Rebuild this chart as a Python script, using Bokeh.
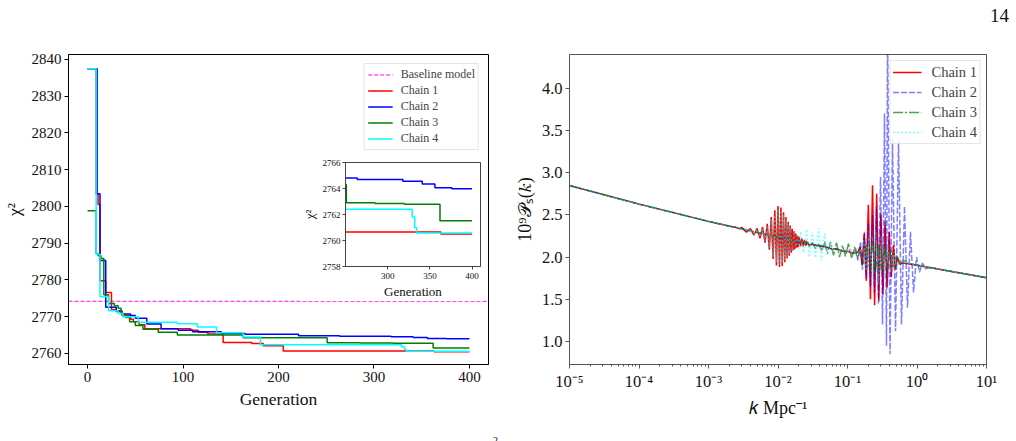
from bokeh.plotting import figure
from bokeh.layouts import row
from bokeh.models import (Range1d, FixedTicker, Legend, LegendItem, Div,
                          CustomJSTickFormatter, NumeralTickFormatter)
from bokeh.embed import file_html
from bokeh.resources import INLINE

SERIF = "Liberation Serif"

# ---------------------------------------------------------------------------
# Best chi^2 found so far by each chain: generation where a new best value
# starts, and that value.
# ---------------------------------------------------------------------------
chain1_gen = [0, 9, 11, 13, 19, 25, 30, 36, 45, 48, 54, 60, 108, 116, 126, 142, 172, 184, 205, 363, 400]
chain1_chi2 = [2837.4, 2803.3, 2800.5, 2779.8, 2776.6, 2771.9, 2771.4, 2770.4, 2769.3, 2768.6, 2767.8,
               2766.7, 2766.3, 2765.8, 2765.3, 2763.0, 2762.7, 2762.1, 2760.65, 2760.5, 2760.5]

chain2_gen = [0, 10, 13, 19, 30, 36, 45, 50, 62, 77, 95, 110, 140, 165, 221, 264, 318, 341, 356, 376, 400]
chain2_chi2 = [2837.4, 2803.4, 2785.3, 2772.6, 2771.6, 2770.7, 2770.3, 2769.6, 2768.0, 2766.7, 2766.3,
               2765.9, 2765.4, 2765.2, 2764.8, 2764.7, 2764.55, 2764.35, 2764.05, 2763.98, 2763.98]

chain3_gen = [0, 9, 11, 14, 17, 22, 28, 32, 35, 40, 44, 50, 58, 74, 94, 163, 251, 285, 320, 362, 400]
chain3_chi2 = [2798.8, 2787.2, 2786.6, 2785.8, 2776.0, 2773.6, 2773.0, 2772.3, 2770.8, 2769.8, 2768.6,
               2767.6, 2766.6, 2765.8, 2765.0, 2764.3, 2762.9, 2762.84, 2762.78, 2761.52, 2761.52]

chain4_gen = [0, 9, 13, 22, 32, 37, 53, 94, 115, 135, 163, 181, 329, 332, 334, 400]
chain4_chi2 = [2837.4, 2787.0, 2775.4, 2771.6, 2770.9, 2770.0, 2768.5, 2768.1, 2767.2, 2765.6, 2764.5,
               2762.4, 2761.8, 2761.0, 2760.58, 2760.58]

baseline_chi2 = 2774.2

gen_ticks = [0, 100, 200, 300, 400]
chi2_ticks = [2760, 2770, 2780, 2790, 2800, 2810, 2820, 2830, 2840]
inset_gen_ticks = [300, 350, 400]
inset_chi2_ticks = [2758, 2760, 2762, 2764, 2766]

# ---------------------------------------------------------------------------
# Reconstructed primordial power spectra, 10^9 P_s(k), one per chain
# ---------------------------------------------------------------------------
spec1_k = [1e-5, 1e-4, 1e-3, 0.002, 0.0025, 0.0028,
           0.0030, 0.0035, 0.0040, 0.0045, 0.0050, 0.0055, 0.0060, 0.0065, 0.0070, 0.0075,
           0.0080, 0.0085, 0.0090, 0.0095, 0.0100, 0.0105, 0.0110, 0.0115, 0.0120, 0.0125,
           0.0130, 0.0135, 0.0140, 0.0145, 0.0150, 0.0155, 0.0160, 0.0165, 0.0170, 0.0175,
           0.0180, 0.0185, 0.0190, 0.0195, 0.0200,
           0.0210, 0.0220, 0.0230, 0.0240, 0.0250, 0.0265, 0.0280, 0.0300,
           0.040, 0.050, 0.060, 0.070, 0.085, 0.100, 0.120, 0.135,
           0.1413, 0.1514, 0.1622, 0.1738, 0.1862, 0.1995, 0.2138, 0.2291, 0.2455, 0.2630,
           0.2818, 0.3020, 0.3236, 0.3467, 0.3715, 0.3981, 0.4266, 0.4571, 0.4898, 0.5248,
           0.5623, 0.631, 1.0, 10.0]
spec1_p = [2.847, 2.627, 2.423, 2.365, 2.352, 2.335,
           2.352, 2.295, 2.338, 2.259, 2.340, 2.223, 2.356, 2.170, 2.394, 2.088,
           2.473, 1.978, 2.554, 1.900, 2.605, 1.882, 2.588, 1.894, 2.531, 1.938,
           2.475, 1.982, 2.419, 2.016, 2.374, 2.051, 2.334, 2.077, 2.305, 2.092,
           2.280, 2.108, 2.256, 2.119, 2.242,
           2.128, 2.220, 2.131, 2.203, 2.135, 2.180, 2.141, 2.151,
           2.135, 2.118, 2.094, 2.098, 2.070, 2.068, 2.045, 2.048,
           2.06, 2.12, 1.90, 2.28, 1.72, 2.62, 1.50, 2.85, 1.43, 2.75,
           1.48, 2.52, 1.56, 2.42, 1.64, 2.30, 1.76, 2.14, 1.85, 2.00,
           1.92, 1.93, 1.903, 1.755]

spec2_k = [1e-5, 1e-4, 1e-3, 0.01, 0.05, 0.1, 0.123, 0.1318, 0.1413,
           0.1538, 0.1644, 0.1758, 0.1875, 0.2004, 0.2143, 0.2291, 0.2443, 0.2612, 0.2793,
           0.2985, 0.3192, 0.3404, 0.3639, 0.3767, 0.4093, 0.4436, 0.4909, 0.5420, 0.5984,
           0.6607, 0.7295, 0.8054, 0.8913, 0.9840, 1.086, 1.199, 1.324, 1.563, 10.0]
spec2_p = [2.847, 2.627, 2.423, 2.235, 2.113, 2.062, 2.05, 2.10, 1.96,
           2.18, 1.85, 2.30, 1.75, 2.40, 1.65, 2.50, 1.58, 2.60, 1.45,
           2.95, 1.20, 3.70, 0.95, 4.80, 0.85, 3.40, 1.12, 3.38, 1.20,
           2.60, 1.40, 2.30, 1.58, 2.00, 1.82, 1.93, 1.86, 1.874, 1.755]

spec3_k = [1e-5, 1e-4, 1e-3, 0.01, 0.018,
           0.0211, 0.0233, 0.0257, 0.0284, 0.0313, 0.0347, 0.0383, 0.0423, 0.0467, 0.0515,
           0.0569, 0.0629, 0.0695, 0.0767, 0.0847, 0.0935, 0.1033, 0.1143, 0.1262, 0.1393,
           0.1538, 0.1698, 0.1875, 0.2075, 0.2291, 0.2529, 0.2793, 0.3083, 0.3404, 0.3767,
           0.4159, 0.4592, 0.5070, 0.5598, 0.6397, 0.8054, 1.0, 10.0]
spec3_p = [2.847, 2.627, 2.423, 2.235, 2.19,
           2.20, 2.15, 2.19, 2.12, 2.17, 2.10, 2.16, 2.08, 2.18, 2.04,
           2.18, 2.02, 2.17, 2.00, 2.14, 2.01, 2.16, 1.99, 2.12, 1.98,
           2.10, 1.92, 2.16, 1.86, 2.18, 1.82, 2.16, 1.84, 2.12, 1.86,
           2.08, 1.88, 2.02, 1.90, 1.96, 1.92, 1.903, 1.755]

spec4_k = [1e-5, 1e-4, 1e-3, 0.003,
           0.0040, 0.0045, 0.0050, 0.0055, 0.0060, 0.0065, 0.0070, 0.0075, 0.0080, 0.0085,
           0.0090, 0.0095, 0.0100, 0.0105, 0.0110, 0.0115, 0.0120, 0.0125, 0.0130, 0.0135,
           0.0140, 0.0145, 0.0150, 0.0160, 0.0170, 0.0180, 0.0190, 0.0200,
           0.0211, 0.0233, 0.0257, 0.0284, 0.0313, 0.0347, 0.0383, 0.0423, 0.0467, 0.0515,
           0.0569, 0.0629, 0.0695, 0.0794, 0.110, 0.150,
           0.1698, 0.1875, 0.2075, 0.2291, 0.2529, 0.2793, 0.3083, 0.3404, 0.3767, 0.4159,
           0.4592, 0.5070, 0.575, 1.0, 10.0]
spec4_p = [2.847, 2.627, 2.423, 2.332,
           2.33, 2.27, 2.33, 2.24, 2.34, 2.19, 2.37, 2.11, 2.44, 2.01,
           2.52, 1.94, 2.56, 1.91, 2.55, 1.93, 2.50, 1.97, 2.44, 2.01,
           2.39, 2.04, 2.35, 2.07, 2.30, 2.10, 2.27, 2.10,
           2.30, 2.05, 2.33, 2.00, 2.30, 1.99, 2.34, 1.96, 2.28, 2.02,
           2.18, 2.06, 2.12, 2.08, 2.06, 2.033,
           2.20, 1.84, 2.30, 1.72, 2.32, 1.70, 2.25, 1.76, 2.16, 1.82,
           2.06, 1.88, 1.95, 1.903, 1.755]

k_ticks = [1e-5, 1e-4, 1e-3, 1e-2, 1e-1, 1e0, 1e1]
k_tick_labels = ["10\u207b\u2075", "10\u207b\u2074", "10\u207b\u00b3", "10\u207b\u00b2",
                 "10\u207b\u00b9", "10\u2070", "10\u00b9"]
p_ticks = [1.0, 1.5, 2.0, 2.5, 3.0, 3.5, 4.0]

chain_names = ["Chain 1", "Chain 2", "Chain 3", "Chain 4"]
chain_colors = ["#ff0000", "#0000ff", "#008000", "#00ffff"]


def style_axes(p, tick_size, label_size, frame_color="black"):
    p.outline_line_color = frame_color
    p.outline_line_width = 1
    p.background_fill_color = "white"
    p.border_fill_color = "white"
    p.xgrid.visible = False
    p.ygrid.visible = False
    for ax in (p.xaxis[0], p.yaxis[0]):
        ax.axis_line_color = frame_color
        ax.major_tick_line_color = frame_color
        ax.major_tick_out = 4
        ax.major_tick_in = 0
        ax.minor_tick_line_color = None
        ax.major_label_text_font = SERIF
        ax.major_label_text_font_size = tick_size
        ax.major_label_text_color = "#111111"
        ax.major_label_standoff = 3
        ax.axis_label_text_font = SERIF
        ax.axis_label_text_font_style = "normal"
        ax.axis_label_text_font_size = label_size
        ax.axis_label_text_color = "#111111"
        ax.axis_label_standoff = 4


# ---------------------------------------------------------------------------
# Left panel: chi^2 against generation
# ---------------------------------------------------------------------------
left = figure(width=508, height=441, x_range=Range1d(-20, 420), y_range=Range1d(2757.0, 2841.3),
              min_border_left=63, min_border_right=20, min_border_top=53, min_border_bottom=69,
              output_backend="svg", toolbar_location=None)
style_axes(left, "15px", "17.5px")
left.xaxis.ticker = FixedTicker(ticks=gen_ticks)
left.yaxis.ticker = FixedTicker(ticks=chi2_ticks)
left.xaxis.axis_label = "Generation"
left.yaxis.axis_label = "\u03c7\u00b2"
left.yaxis.axis_label_standoff = 5

base_r = left.line(x=[left.x_range.start, left.x_range.end], y=[baseline_chi2, baseline_chi2],
                   line_color="#ff00ff", line_width=1, line_dash="4 2")
gens = [chain1_gen, chain2_gen, chain3_gen, chain4_gen]
chis = [chain1_chi2, chain2_chi2, chain3_chi2, chain4_chi2]
left_items = [LegendItem(label="Baseline model", renderers=[base_r])]
for g, c, col, name in zip(gens, chis, chain_colors, chain_names):
    r = left.step(x=g, y=c, mode="after", line_color=col, line_width=1.5)
    left_items.append(LegendItem(label=name, renderers=[r]))

left_legend = Legend(items=left_items, location="top_right", margin=9, padding=3, spacing=1,
                     glyph_width=25, glyph_height=13, label_height=13, label_standoff=8,
                     label_text_font=SERIF, label_text_font_size="12px",
                     border_line_color="#cccccc", border_line_width=1,
                     background_fill_color="white", background_fill_alpha=0.8)
left.add_layout(left_legend)

# ---------------------------------------------------------------------------
# Inset: zoom on the last generations, laid over the left panel
# ---------------------------------------------------------------------------
inset = figure(width=186, height=145, x_range=Range1d(250, 410),
               y_range=Range1d(2758, 2766),
               min_border_left=42, min_border_right=4, min_border_top=6, min_border_bottom=34,
               output_backend="svg", toolbar_location=None,
               styles={"position": "absolute", "left": "298px", "top": "156px", "z-index": "5"})
style_axes(inset, "9px", "13px", frame_color="#444444")
inset.xaxis.ticker = FixedTicker(ticks=inset_gen_ticks)
inset.yaxis.ticker = FixedTicker(ticks=inset_chi2_ticks)
inset.xaxis.major_tick_out = 3
inset.yaxis.major_tick_out = 3
inset.xaxis.major_label_standoff = 3
inset.yaxis.major_label_standoff = 2
inset.xaxis.axis_label = "Generation"
inset.yaxis.axis_label = "\u03c7\u00b2"
inset.xaxis.axis_label_standoff = 2
inset.yaxis.axis_label_standoff = 3
for g, c, col in zip(gens, chis, chain_colors):
    inset.step(x=g, y=c, mode="after", line_color=col, line_width=1.5)

# ---------------------------------------------------------------------------
# Right panel: reconstructed power spectra
# ---------------------------------------------------------------------------
right = figure(width=508, height=441, x_axis_type="log", x_range=Range1d(1e-5, 1e1),
               y_range=Range1d(0.727, 4.40),
               min_border_left=61, min_border_right=30, min_border_top=54, min_border_bottom=77,
               output_backend="svg", toolbar_location=None)
style_axes(right, "16.5px", "18px", frame_color="#555555")
right.xaxis.ticker = FixedTicker(ticks=k_ticks,
                                 minor_ticks=[m * t for t in k_ticks[:-1] for m in range(2, 10)])
right.xaxis.minor_tick_line_color = "#555555"
right.xaxis.minor_tick_out = 2
right.xaxis.minor_tick_in = 0
right.xaxis.formatter = CustomJSTickFormatter(args=dict(kvals=k_ticks, klabels=k_tick_labels), code="""
    const i = kvals.findIndex(t => Math.abs(Math.log10(t) - Math.log10(tick)) < 1e-6);
    return i >= 0 ? klabels[i] : "";
""")
right.yaxis.ticker = FixedTicker(ticks=p_ticks)
right.yaxis.formatter = NumeralTickFormatter(format="0.0")
right.xaxis.axis_label = "\U0001d458 Mpc\u207b\u00b9"
right.yaxis.axis_label = "10\u2079\U0001d4ab\u209b(\U0001d458)"
right.yaxis.axis_label_standoff = 4

spec_k = [spec1_k, spec2_k, spec3_k, spec4_k]
spec_p = [spec1_p, spec2_p, spec3_p, spec4_p]
dashes = ["solid", "6 2", "10 2 2 2", "2 2"]
alphas = [1.0, 0.5, 0.7, 0.5]
right_items = []
for k, pk, col, dash, a, name in zip(spec_k, spec_p, chain_colors, dashes, alphas, chain_names):
    r = right.line(x=k, y=pk, line_color=col, line_width=1.5, line_dash=dash, line_alpha=a)
    right_items.append(LegendItem(label=name, renderers=[r]))

right_legend = Legend(items=right_items, location="top_right", margin=6, padding=2, spacing=2,
                      glyph_width=29, glyph_height=18, label_height=18, label_standoff=10,
                      label_text_font=SERIF, label_text_font_size="14.5px",
                      border_line_color="#cccccc", border_line_width=1,
                      background_fill_color="white", background_fill_alpha=0.8)
right.add_layout(right_legend)

# page number and the top of the caption below the figures
page_number = Div(text="14", styles={"position": "absolute", "left": "990px", "top": "2px",
                                     "font-family": SERIF, "font-size": "19px", "color": "#111111",
                                     "margin": "0", "padding": "0", "z-index": "6"})
caption_tail = Div(text="2", styles={"position": "absolute", "left": "493px", "top": "434px",
                                     "font-family": SERIF, "font-size": "10px", "color": "#111111",
                                     "margin": "0", "padding": "0", "z-index": "6"})

layout = row(left, right, page_number, caption_tail)
open("out.html", "w").write(file_html([layout, inset], INLINE))
